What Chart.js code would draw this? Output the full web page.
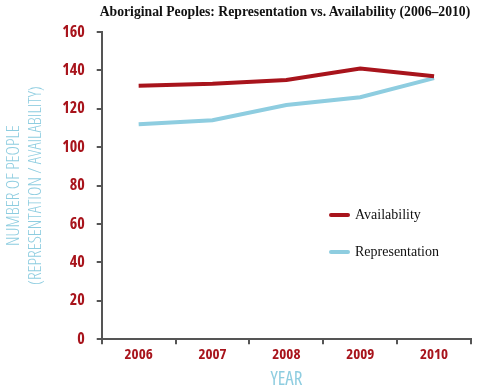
<!DOCTYPE html>
<html>
<head>
<meta charset="utf-8">
<script src="https://cdn.jsdelivr.net/npm/chart.js@4"></script>
<style>
  html, body { margin: 0; padding: 0; background: #fff; }
  #wrap { position: relative; width: 500px; height: 391px; }
  #title {
    position: absolute; left: 88px; top: 4px; width: 394px;
    text-align: center; font: bold 13.7px "Liberation Serif", serif; color: #111;
  }
  .legend {
    position: absolute; left: 329px; font: 14px "Liberation Serif", serif; color: #111;
    display: flex; align-items: center;
  }
  .legend span.sw { display: inline-block; width: 21px; height: 4px; border-radius: 2px; margin-right: 5px; }
</style>
</head>
<body>
<div id="wrap">
  <canvas id="chart" width="500" height="391"></canvas>
  <div id="title">Aboriginal Peoples: Representation vs. Availability (2006–2010)</div>
  <div class="legend" style="top:207px"><span class="sw" style="background:#a8141c"></span>Availability</div>
  <div class="legend" style="top:244px"><span class="sw" style="background:#8ecde0"></span>Representation</div>
</div>
<script>
// data
const years = ["2006", "2007", "2008", "2009", "2010"];
const availability = [132, 133, 135, 141, 137];
const representation = [112, 114, 122, 126, 136];
const yTicks = [0, 20, 40, 60, 80, 100, 120, 140, 160];

const red = "#a8141c";
const blue = "#8ecde0";
const axisGrey = "#555";
// Open Sans is variable, so "condensed" in the font string narrows it
const cond = "'Open Sans', sans-serif";

new Chart(document.getElementById("chart"), {
  type: "line",
  data: {
    labels: years,
    datasets: [
      {
        label: "Availability",
        data: availability,
        borderColor: red,
        borderWidth: 4,
        pointRadius: 0,
        tension: 0
      },
      {
        label: "Representation",
        data: representation,
        borderColor: blue,
        borderWidth: 4,
        pointRadius: 0,
        tension: 0
      }
    ]
  },
  options: {
    responsive: false,
    animation: false,
    layout: { padding: { top: 32, right: 29, bottom: 0, left: 3 } },
    plugins: {
      legend: { display: false },
      tooltip: { enabled: false }
    },
    scales: {
      x: {
        offset: true,
        grid: {
          offset: true,
          drawOnChartArea: false,
          color: axisGrey,
          lineWidth: 2,
          tickLength: 5
        },
        border: { color: axisGrey, width: 2 },
        ticks: {
          color: red,
          font: { family: cond, size: 15, weight: "bold condensed" },
          padding: 2
        },
        title: {
          display: true,
          text: "YEAR",
          color: blue,
          font: { family: cond, size: 19, weight: "normal condensed" },
          padding: { top: 2, bottom: 0 }
        }
      },
      y: {
        min: 0,
        max: 160,
        afterBuildTicks: axis => { axis.ticks = yTicks.map(v => ({ value: v })); },
        grid: {
          drawOnChartArea: false,
          color: axisGrey,
          lineWidth: 2,
          tickLength: 5
        },
        border: { color: axisGrey, width: 2 },
        ticks: {
          color: red,
          font: { family: cond, size: 16, weight: "bold condensed" },
          padding: 12
        },
        title: {
          display: true,
          text: ["NUMBER OF PEOPLE", "(REPRESENTATION / AVAILABILITY)"],
          color: blue,
          font: { family: cond, size: 18, weight: "300 condensed", lineHeight: 1.2 },
          padding: { top: 0, bottom: 4 }
        }
      }
    }
  }
});
</script>
</body>
</html>
